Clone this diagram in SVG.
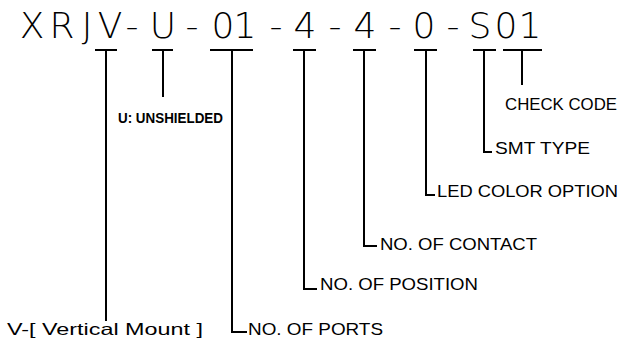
<svg xmlns="http://www.w3.org/2000/svg" width="626" height="344" viewBox="0 0 626 344">
<style>
.title{font-family:"DejaVu Sans","Liberation Sans",sans-serif;font-weight:200;font-size:36px;fill:#000;text-anchor:middle}
.lbl{font-family:"Liberation Sans",Arial,sans-serif;font-size:16.5px;fill:#000}
.bold{font-family:"Liberation Sans",Arial,sans-serif;font-size:15px;font-weight:bold;fill:#000}
.ln{fill:none;stroke:#000;stroke-width:2;stroke-linecap:butt;stroke-linejoin:miter}
</style>
<rect width="626" height="344" fill="#fff"/>
<g id="code">
<text class="title" y="38" x="32 62 87 110 132 163 192 223 245 276 305 335 365 395 424 453 480 506 530">XRJV-U-01-4-4-0-S01</text>
</g>
<g id="connectors">
<path class="ln" d="M95 50H117M106 50V321"/>
<path class="ln" d="M152 50H173M163 50V97"/>
<path class="ln" d="M210 50H253M232 50V332H247"/>
<path class="ln" d="M293 50H316M304 50V289H317"/>
<path class="ln" d="M353 50H376M364 50V246H377"/>
<path class="ln" d="M414 50H437M426 50V195H435"/>
<path class="ln" d="M473 50H496M484 50V152H492"/>
<path class="ln" d="M503 50H542M522 50V85"/>
</g>
<g id="mount"><text class="lbl" x="7" y="335" textLength="196" lengthAdjust="spacingAndGlyphs">V-[ Vertical Mount ]</text></g>
<g id="shield"><text class="bold" x="118" y="123" textLength="105" lengthAdjust="spacingAndGlyphs">U: UNSHIELDED</text></g>
<g id="ports"><text class="lbl" x="248" y="335" textLength="135" lengthAdjust="spacingAndGlyphs">NO. OF PORTS</text></g>
<g id="position"><text class="lbl" x="320" y="290" textLength="158" lengthAdjust="spacingAndGlyphs">NO. OF POSITION</text></g>
<g id="contact"><text class="lbl" x="380" y="250" textLength="157" lengthAdjust="spacingAndGlyphs">NO. OF CONTACT</text></g>
<g id="led"><text class="lbl" x="437" y="197" textLength="181" lengthAdjust="spacingAndGlyphs">LED COLOR OPTION</text></g>
<g id="smt"><text class="lbl" x="495" y="154" textLength="95" lengthAdjust="spacingAndGlyphs">SMT TYPE</text></g>
<g id="check"><text class="lbl" x="505" y="110" textLength="112" lengthAdjust="spacingAndGlyphs">CHECK CODE</text></g>
</svg>
